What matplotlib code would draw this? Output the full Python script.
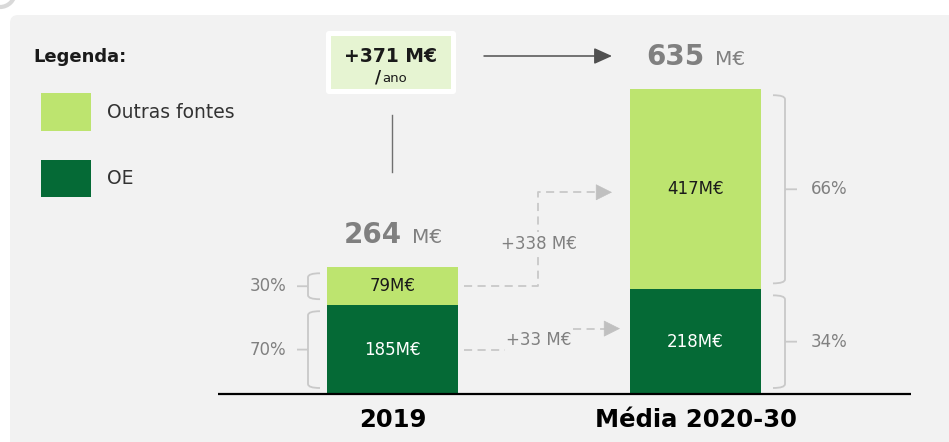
import matplotlib.pyplot as plt
from matplotlib.patches import Rectangle, FancyBboxPatch, PathPatch, Arc
from matplotlib.path import Path
from matplotlib.transforms import Affine2D

# data
categorias = ['2019', 'Média 2020-30']
oe = [185, 218]
outras = [79, 417]
legenda = ['Outras fontes', 'OE']

total = [a + b for a, b in zip(oe, outras)]
pct_outras = [round(100 * o / t) for o, t in zip(outras, total)]
pct_oe = [round(100 * e / t) for e, t in zip(oe, total)]

c_light = '#bde46f'
c_dark = '#056a36'
c_panel = '#f2f2f2'
c_gray = '#808080'
c_line = '#c9c9c9'

W, H = 949, 442
base_px = 394      # pixel row of the baseline
k = 0.48           # pixels per M€
xs = [392.5, 695.5]
bw = 131

fig = plt.figure(figsize=(W / 100, H / 100), dpi=100)
fig.patch.set_facecolor('white')
ax = fig.add_axes([0, 0, 1, 1])
ax.set_xlim(0, W)
ax.set_ylim(-(H - base_px) / k, base_px / k)
ax.axis('off')

# pixel transform (origin top-left) for the decorations
T = Affine2D().scale(1, -1).translate(0, H)


def px(n):
    # pixel distance -> data units on y
    return n / k


# background panel
panel = FancyBboxPatch((10, 15), 980, 460, boxstyle='round,pad=0,rounding_size=8',
                       facecolor=c_panel, edgecolor='none', transform=T, zorder=-5)
fig.add_artist(panel)
fig.add_artist(Arc((0, -8), 30, 30, theta1=0, theta2=180, transform=T,
                   color='#d9d9d9', lw=3, zorder=-4))

# bars
ax.bar(xs, oe, width=bw, color=c_dark, zorder=3)
ax.bar(xs, outras, bottom=oe, width=bw, color=c_light, zorder=3)
ax.plot([218, 911], [0, 0], color='black', lw=1.6, zorder=4, solid_capstyle='butt')

for i in range(2):
    ax.text(xs[i], oe[i] / 2, f'{oe[i]}M€', color='white', fontsize=12,
            ha='center', va='center', zorder=5)
    ax.text(xs[i], oe[i] + outras[i] / 2, f'{outras[i]}M€', color='#1a1a1a',
            fontsize=12, ha='center', va='center', zorder=5)
    ax.text(xs[i] + 9.5, total[i] + 50, f'{total[i]}', color=c_gray, fontsize=20,
            fontweight='bold', ha='right', va='baseline')
    ax.text(xs[i] + 19.5, total[i] + 50, 'M€', color=c_gray, fontsize=14.5,
            ha='left', va='baseline')
    ax.text(xs[i], -68, categorias[i], color='black', fontsize=17.5,
            fontweight='bold', ha='center', va='baseline')


def bracket(x0, y0, y1, d, t, label):
    r = 4
    ry = px(r)
    verts = [(x0 + d, y1), (x0, y1), (x0, y1 - ry), (x0, y0 + ry), (x0, y0), (x0 + d, y0),
             (x0, (y0 + y1) / 2), (x0 - t, (y0 + y1) / 2)]
    codes = [Path.MOVETO, Path.CURVE3, Path.CURVE3, Path.LINETO, Path.CURVE3, Path.CURVE3,
             Path.MOVETO, Path.LINETO]
    ax.add_patch(PathPatch(Path(verts, codes), facecolor='none', edgecolor=c_line, lw=1.3))
    if d > 0:
        ax.text(x0 - 22, (y0 + y1) / 2, label, color=c_gray, fontsize=12,
                ha='right', va='center')
    else:
        ax.text(x0 + 26, (y0 + y1) / 2, label, color=c_gray, fontsize=12,
                ha='left', va='center')


ins = px(6)
# left brackets (2019)
bracket(308, oe[0] + ins, total[0] - ins, 12, 11, f'{pct_outras[0]}%')
bracket(308, ins, oe[0] - ins, 12, 11, f'{pct_oe[0]}%')
# right brackets (media)
bracket(785, oe[1] + ins, total[1] - ins, -12, -12, f'{pct_outras[1]}%')
bracket(785, ins, oe[1] - ins, -12, -12, f'{pct_oe[1]}%')

dash = dict(color=c_line, lw=1.3, linestyle=(0, (4.5, 3)), zorder=2)


def head(x, y):
    ax.annotate('', xy=(x, y), xytext=(x - 12, y),
                arrowprops=dict(arrowstyle='-|>,head_length=0.9,head_width=0.45',
                                color='#c0c0c0', lw=0.5, shrinkA=0, shrinkB=0,
                                mutation_scale=12))


# +338 connector (outras fontes)
y_a = oe[0] + outras[0] / 2
y_b = oe[1] + outras[1] / 2 - px(3)
ax.plot([464, 538, 538, 601], [y_a, y_a, y_b, y_b], **dash)
head(612, y_b)
ax.text(539, (y_a + y_b) / 2 - px(5), f'+{outras[1] - outras[0]} M€', color=c_gray,
        fontsize=12, ha='center', va='center',
        bbox=dict(facecolor=c_panel, edgecolor='none', pad=2))

# +33 connector (OE)
y_c = oe[0] / 2
y_d = y_c + px(21)
ax.plot([464, 505], [y_c, y_c], **dash)
ax.plot([573, 608], [y_d, y_d], **dash)
head(620, y_d)
ax.text(539, y_c + px(10), f'+{oe[1] - oe[0]} M€', color=c_gray, fontsize=12,
        ha='center', va='center')

# growth box and arrow
fig.add_artist(FancyBboxPatch((326, 31), 130, 63, boxstyle='round,pad=0,rounding_size=3',
                              facecolor='white', edgecolor='none', transform=T, zorder=1))
fig.add_artist(Rectangle((331, 36), 120, 53, facecolor='#e6f4d2', edgecolor='none',
                         transform=T, zorder=1))
fig.text(391, 62, f'+{total[1] - total[0]} M€', transform=T, fontsize=13.5,
         fontweight='bold', ha='center', va='baseline', color='#1a1a1a', zorder=6)
fig.text(381, 82, '/', transform=T, fontsize=12, fontweight='bold', ha='right',
         va='baseline', color='#1a1a1a', zorder=6)
fig.text(382, 82, 'ano', transform=T, fontsize=9.5, ha='left', va='baseline',
         color='#1a1a1a', zorder=6)
ax.plot([392, 392], [(base_px - 115) / k, (base_px - 172) / k], color='#707070', lw=1)
ax.annotate('', xy=(612, (base_px - 56) / k), xytext=(484, (base_px - 56) / k),
            arrowprops=dict(arrowstyle='-|>,head_length=1.0,head_width=0.45',
                            color='#505050', lw=1.1, shrinkA=0, shrinkB=0,
                            mutation_scale=11))

# legend
fig.text(33, 57, 'Legenda:', transform=T, fontsize=13, fontweight='bold',
         ha='left', va='center', color='#1a1a1a')
for (y0, y1), col, lab in zip([(93, 131), (160, 197)], [c_light, c_dark], legenda):
    fig.add_artist(Rectangle((41, y0), 50, y1 - y0, facecolor=col, edgecolor='none',
                             transform=T, zorder=1))
    fig.text(107, (y0 + y1) / 2, lab, transform=T, fontsize=13.5, ha='left',
             va='center', color='#333333')

fig.savefig('out.png', dpi=100)
